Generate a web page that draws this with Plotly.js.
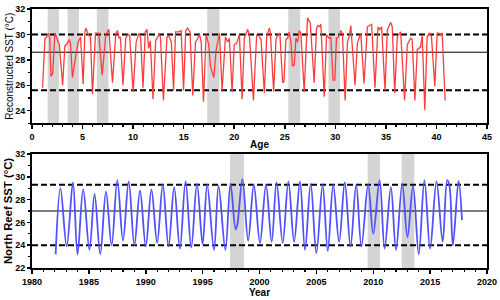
<!DOCTYPE html>
<html>
<head>
<meta charset="utf-8">
<script src="https://cdn.plot.ly/plotly-3.0.1.min.js"></script>
<style>html,body{margin:0;padding:0;background:#fff;}#chart{width:500px;height:300px;}</style>
</head>
<body>
<div id="chart"></div>
<script>
// ---- Top panel: reconstructed SST vs age ----
const ageX = [1.05,1.28,1.45,1.61,1.76,1.87,2.04,2.27,2.5,2.7,3.03,3.25,3.42,3.68,3.81,4.0,4.34,4.57,4.8,5.06,5.23,5.33,5.56,5.79,5.98,6.28,6.6,6.94,7.3,7.6,7.96,8.29,8.45,8.61,8.74,9.0,9.27,9.5,9.66,10.0,10.3,10.58,10.75,10.98,11.2,11.37,11.54,11.7,11.97,12.23,12.56,12.7,13.0,13.35,13.54,13.78,14.0,14.2,14.53,14.75,14.99,15.2,15.4,15.62,15.9,16.17,16.4,16.57,16.73,16.96,17.22,17.48,17.65,17.98,18.2,18.54,18.8,19.13,19.36,19.52,19.79,20.0,20.25,20.51,20.78,21.0,21.33,21.5,21.9,22.22,22.42,22.65,22.98,23.21,23.47,23.57,23.9,24.13,24.39,24.52,24.79,24.92,25.11,25.28,25.44,25.61,25.77,25.94,26.1,26.27,26.43,26.59,26.92,27.25,27.52,27.91,28.14,28.3,28.47,28.57,28.9,29.13,29.39,29.55,29.78,29.95,30.11,30.31,30.54,30.7,30.97,31.2,31.36,31.53,31.95,32.18,32.51,32.84,33.17,33.59,33.92,34.22,34.38,34.58,34.91,35.14,35.47,35.63,35.87,36.13,36.46,36.85,37.12,37.44,37.6,37.87,38.1,38.43,38.59,38.85,39.08,39.32,39.51,39.84,40.07,40.24,40.41,40.57,40.86];
const reconSST = [25.8,29.7,29.8,30.1,29.7,26.7,26.9,30.1,29.6,29.2,26.0,29.1,29.2,29.6,29.3,26.6,28.4,29.4,29.8,26.1,30.2,30.5,30.0,29.8,25.3,30.1,30.1,26.8,30.0,30.4,26.2,30.1,30.3,29.7,29.8,26.0,29.7,30.0,29.9,25.5,29.4,30.1,29.7,25.8,30.2,30.4,28.9,29.5,24.9,29.5,30.0,29.8,24.8,29.8,29.9,29.4,25.6,30.2,30.2,30.3,25.6,30.3,30.5,30.2,25.2,29.4,29.7,30.0,29.4,24.7,30.0,29.2,27.5,26.6,28.7,30.1,25.6,29.8,29.4,29.7,25.5,29.2,29.3,30.0,24.9,29.7,30.4,30.0,24.8,29.95,29.9,29.6,25.4,29.8,30.5,30.2,25.5,29.6,30.1,29.95,26.2,26.3,29.6,29.7,30.2,29.4,27.5,27.6,29.7,29.4,30.3,30.1,25.5,31.3,30.9,26.2,30.5,30.7,30.6,30.8,25.1,29.95,29.7,29.8,26.4,26.4,29.7,29.8,30.3,30.1,24.8,29.4,29.8,30.7,26.0,29.3,30.1,26.15,30.6,30.8,25.8,30.6,30.35,30.6,25.6,30.35,30.95,30.6,25.4,29.8,30.2,24.8,29.2,29.7,29.6,24.8,28.8,29.0,29.95,24.05,29.8,30.1,29.8,25.9,30.1,30.1,29.95,30.1,24.8];
const reconMean = [28.6];
const reconBounds = [30.0, 25.6];
const reconShadeStart = [1.55, 3.52, 6.41, 17.33, 25.35, 29.32];
const reconShadeEnd   = [2.66, 4.64, 7.56, 18.54, 26.53, 30.47];

// ---- Bottom panel: North Reef SST vs year ----
const yearX = [1982.08,1982.5,1983.05,1983.6,1984.0,1984.5,1985.05,1985.5,1986.0,1986.5,1987.0,1987.5,1988.0,1988.5,1989.0,1989.5,1990.0,1990.5,1991.0,1991.5,1992.0,1992.5,1993.0,1993.5,1994.0,1994.5,1995.0,1995.4,1996.0,1996.4,1997.0,1997.45,1997.9,1998.05,1998.5,1999.0,1999.5,2000.04,2000.57,2001.07,2001.5,2002.04,2002.54,2003.04,2003.56,2004.0,2004.5,2005.0,2005.55,2006.0,2006.48,2007.0,2007.5,2008.0,2008.5,2008.96,2009.55,2010.0,2010.56,2011.0,2011.55,2012.0,2012.55,2013.0,2013.5,2014.0,2014.5,2015.0,2015.56,2016.1,2016.5,2016.7,2017.0,2017.5,2017.8];
const reefSST = [23.2,29.0,23.9,29.5,23.2,28.9,23.6,28.5,23.2,28.7,24.0,29.7,24.4,29.6,24.0,28.8,23.9,28.9,24.2,29.3,23.9,29.1,23.7,29.6,23.8,29.4,24.1,29.3,23.6,29.2,23.6,29.4,25.4,25.8,29.8,24.4,29.3,24.2,29.3,24.3,29.5,24.2,29.6,24.3,29.6,23.6,29.4,23.3,29.3,23.5,29.3,24.3,29.5,23.9,29.3,23.9,29.3,25.0,29.7,23.7,29.1,23.6,29.4,24.7,29.2,23.2,29.7,23.7,29.6,24.3,29.7,29.2,24.0,29.65,26.2];
const reefMean = [27.0];
const reefBounds = [29.3, 24.0];
const reefShadeStart = [1997.41, 2009.51, 2012.5];
const reefShadeEnd   = [1998.64, 2010.59, 2013.61];

const FONT = 'Liberation Sans, Arial, sans-serif';
const shapes = [];
function addShades(starts, ends, xa, ya) {
  starts.forEach((s, i) => shapes.push({type:'rect', layer:'below', xref:xa, yref:ya+' domain', x0:s, x1:ends[i], y0:0, y1:1, fillcolor:'#d4d4d4', line:{width:0}}));
}
function addHLines(mean, bounds, xa, ya) {
  mean.forEach(v => shapes.push({type:'line', layer:'below', xref:xa+' domain', yref:ya, x0:0, x1:1, y0:v, y1:v, line:{color:'#000', width:1}}));
  bounds.forEach(v => shapes.push({type:'line', layer:'below', xref:xa+' domain', yref:ya, x0:0, x1:1, y0:v, y1:v, line:{color:'#000', width:2, dash:'6px,3px'}}));
}
addShades(reconShadeStart, reconShadeEnd, 'x', 'y');
addShades(reefShadeStart, reefShadeEnd, 'x2', 'y2');
addHLines(reconMean, reconBounds, 'x', 'y');
addHLines(reefMean, reefBounds, 'x2', 'y2');

const tickFont = {family: FONT, size: 9, color: '#000', weight: 'bold'};
function axisBase(len) {
  return {showgrid:false, zeroline:false, showline:true, linecolor:'#000', linewidth:2, mirror:true,
    ticks:'outside', ticklen:len, tickwidth:1.5, tickcolor:'#000', tickfont:tickFont,
    minor:{ticks:'outside', ticklen:2, tickwidth:1.2, tickcolor:'#000', dtick:1, showgrid:false}};
}

const traces = [
  {x: ageX, y: reconSST, type:'scatter', mode:'lines', line:{color:'#ff3c3c', width:1.3}, xaxis:'x', yaxis:'y', hoverinfo:'skip'},
  {x: yearX, y: reefSST, type:'scatter', mode:'lines', line:{color:'#5151ff', width:1.8, shape:'spline', smoothing:1}, xaxis:'x2', yaxis:'y2', hoverinfo:'skip'}
];

const layout = {
  width:500, height:300, showlegend:false,
  paper_bgcolor:'#fff', plot_bgcolor:'#fff',
  margin:{l:32, r:13, t:9, b:32},
  shapes: shapes,
  xaxis: Object.assign(axisBase(4), {anchor:'y', range:[0,45], dtick:5, tick0:0,
    title:{text:'Age', font:{family:FONT, size:10, color:'#000', weight:'bold'}, standoff:0}}),
  yaxis: Object.assign(axisBase(3), {anchor:'x', domain:[0.5583,1], range:[23,32], dtick:2, tick0:24,
    title:{text:'Reconstructed SST (°C)', font:{family:FONT, size:10, color:'#000'}, standoff:0}}),
  xaxis2: Object.assign(axisBase(4), {anchor:'y2', range:[1980,2020], dtick:5, tick0:1980,
    title:{text:'Year', font:{family:FONT, size:10, color:'#000', weight:'bold'}, standoff:2}}),
  yaxis2: Object.assign(axisBase(3), {anchor:'x2', domain:[0,0.4402], range:[22,32], dtick:2, tick0:22,
    title:{text:'North Reef SST (°C)', font:{family:FONT, size:11.3, color:'#000', weight:'bold'}, standoff:0}})
};

Plotly.newPlot('chart', traces, layout, {staticPlot:true, displayModeBar:false});
</script>
</body>
</html>
